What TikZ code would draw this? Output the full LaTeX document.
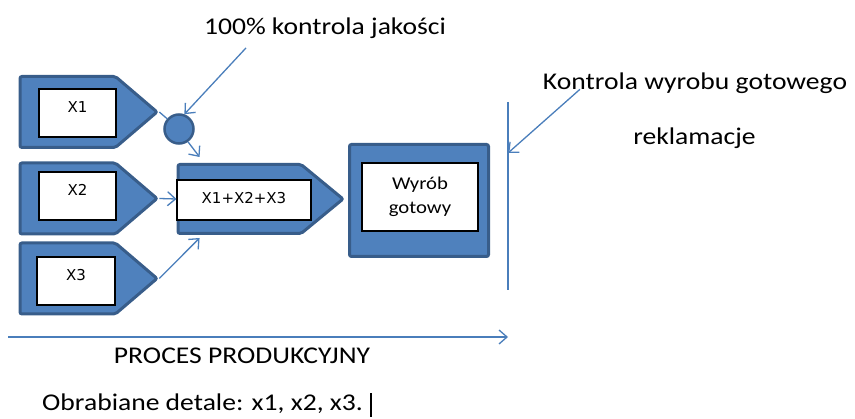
\documentclass[tikz,border=0pt]{standalone}
\usepackage{fontspec}
\setmainfont[FakeStretch=1.15]{Carlito}
\newfontfamily\tagfont{DejaVu Sans}
\usetikzlibrary{positioning, shapes.symbols, arrows.meta}
\definecolor{fillblue}{HTML}{4F81BD}
\definecolor{edgeblue}{HTML}{385D8A}
\definecolor{lineblue}{HTML}{4A7EBB}

\begin{document}
\begin{tikzpicture}[
    x=1pt, y=-1pt,
    font=\fontsize{24}{28}\selectfont,
    part/.style={signal, signal to=east, draw=edgeblue, fill=fillblue, line width=3pt, rounded corners=2pt, inner sep=0pt, anchor=west},
    tag/.style={rectangle, draw=black, fill=white, line width=1.5pt, inner sep=0pt, font=\tagfont\fontsize{15}{17}\selectfont},
    prod/.style={rectangle, draw=edgeblue, fill=fillblue, line width=3pt, rounded corners=2pt, minimum width=139pt, minimum height=112pt},
    blob/.style={circle, draw=edgeblue, fill=fillblue, line width=2.5pt, minimum size=29pt, inner sep=0pt},
    conn/.style={draw=lineblue, line width=1.3pt, -{Straight Barb[length=8pt, width=14pt]}},
    rule_line/.style={draw=lineblue, line width=1.5pt}
]
\useasboundingbox (0,0) rectangle (855,419);

% Parts x1, x2, x3
\node[part, minimum width=137pt, minimum height=71pt, signal pointer angle=81] (x1) at (18.5,112) {};
\node[part, minimum width=137pt, minimum height=71pt, signal pointer angle=81] (x2) at (18.5,198.5) {};
\node[part, minimum width=137pt, minimum height=71pt, signal pointer angle=81] (x3) at (18.5,278.5) {};
\node[tag, minimum width=77pt, minimum height=48pt, text height=10pt, text depth=10pt] (t1) at (77.5,113) {X1};
\node[tag, minimum width=77pt, minimum height=48pt, text height=10pt, text depth=10pt] (t2) at (77.5,196) {X2};
\node[tag, minimum width=78pt, minimum height=48pt, text height=10pt, text depth=10pt] (t3) at (76,281) {X3};

% Control point
\node[blob] (chk) at (179,129) {};

% Assembly
\node[part, minimum width=165pt, minimum height=69pt, signal pointer angle=79] (comb) at (176.5,199) {};
\node[tag, minimum width=134pt, minimum height=40pt, text height=11pt, text depth=4pt] (tc) at (244,200) {X1+X2+X3};

% Finished product
\node[prod] (wyr) at (419,200.5) {};
\node[tag, minimum width=116pt, minimum height=68pt, align=center, font=\fontsize{18}{24}\selectfont] (tw) at (420,197) {Wyrób\\gotowy};

% Texts
\node (q100) at (325,28) {100\% kontrola jakości};
\node (kwg) at (695,83) {Kontrola wyrobu gotowego};
\node (rekl) at (694.5,138) {reklamacje};
\node (proc) at (242,356) {PROCES PRODUKCYJNY};
\node[anchor=west, inner sep=0pt] (det) at (42,405) {Obrabiane detale: x1, x2, x3.\hspace{7pt}\rule[-6pt]{2pt}{24pt}};

% Lines
\coordinate (vtop) at (508,102);
\coordinate (vhit) at (508,153);
\coordinate (vbot) at (508,290);
\coordinate (pstart) at (8,337);
\coordinate (pend) at (508,337);

\draw[rule_line] (vtop) -- (vbot);
\draw[conn] (pstart) -- (pend);
\draw[conn] ([xshift=-115pt]kwg.base) -- (vhit);
\draw[conn] ([xshift=-79pt,yshift=-6pt]q100.south) -- (chk.70);
\draw[draw=lineblue, line width=1.3pt] (x1.east) -- (chk);
\draw[conn] (chk.-55) -- ([xshift=-40pt,yshift=6pt]comb.north);
\draw[conn] (x2.east) -- (comb.west);
\draw[conn] (x3.east) -- ([xshift=-40pt,yshift=-3pt]comb.south);

\end{tikzpicture}
\end{document}
